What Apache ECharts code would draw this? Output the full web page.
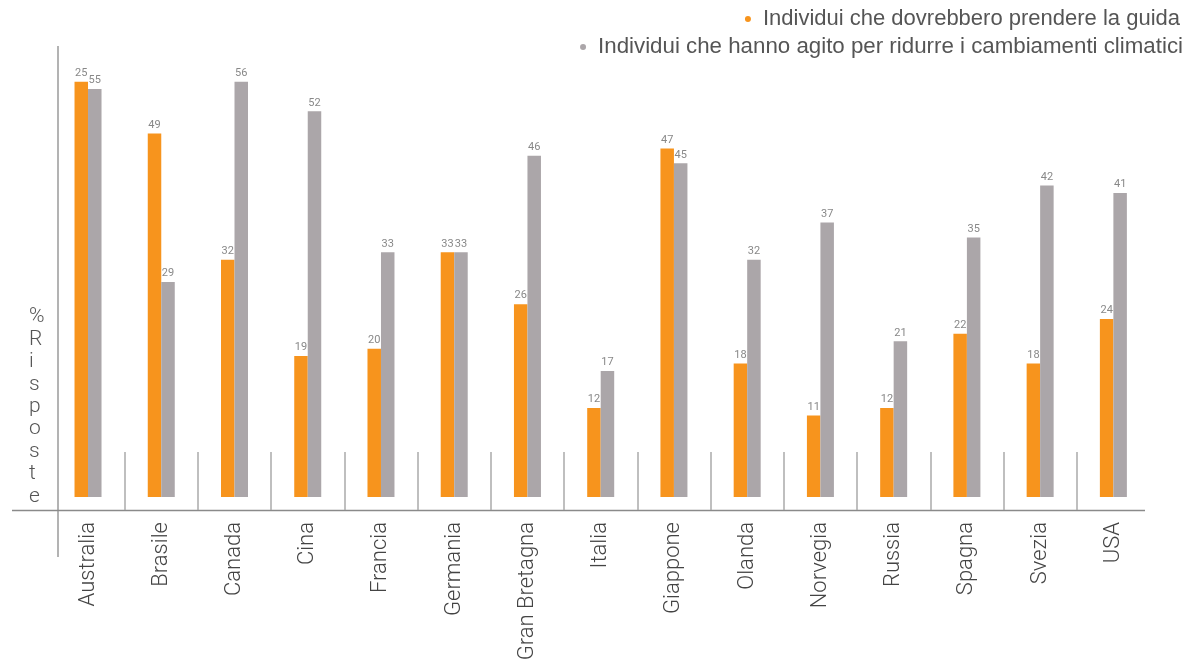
<!DOCTYPE html>
<html>
<head>
<meta charset="utf-8">
<script src="https://cdn.jsdelivr.net/npm/echarts@6/dist/echarts.min.js"></script>
<style>html,body{margin:0;padding:0;background:#fff}#c{width:1190px;height:669px}</style>
</head>
<body>
<div id="c"></div>
<script>
const categories = ['Australia','Brasile','Canada','Cina','Francia','Germania','Gran Bretagna','Italia','Giappone','Olanda','Norvegia','Russia','Spagna','Svezia','USA'];
const seriesNames = ['Individui che dovrebbero prendere la guida','Individui che hanno agito per ridurre i cambiamenti climatici'];
// bar heights as drawn
const guidaValues = [56,49,32,19,20,33,26,12,47,18,11,12,22,18,24];
// printed labels (Australia printed as 25 in the original)
const guidaLabels = [25,49,32,19,20,33,26,12,47,18,11,12,22,18,24];
const agitoValues = [55,29,56,52,33,33,46,17,45,32,37,21,35,42,41];
const yAxisTitle = '%\nR\ni\ns\np\no\ns\nt\ne';

const FONT = 'Roboto';
const chart = echarts.init(document.getElementById('c'), null, {renderer:'canvas'});
chart.setOption({
  animation: false,
  color: ['#F7941D', '#ABA6A9'],
  title: {
    text: yAxisTitle, left: 24, top: 301,
    textStyle: {fontFamily: FONT, fontWeight: 300, fontSize: 21, lineHeight: 22.4, color: '#555', align: 'center'}
  },
  legend: [
    {data: [seriesNames[0]], right: 5, top: 3, orient: 'vertical', itemWidth: 20, itemHeight: 6, icon: 'circle',
     textStyle: {fontFamily: 'Liberation Sans', fontSize: 22, color: '#555'}},
    {data: [seriesNames[1]], right: 2, top: 31, orient: 'vertical', itemWidth: 20, itemHeight: 6, icon: 'circle',
     textStyle: {fontFamily: 'Liberation Sans', fontSize: 22.3, color: '#555'}}
  ],
  grid: [
    {left: 51.4, right: 40, top: 52, bottom: 172},
    {left: 51.4, right: 40, top: 452, height: 58}
  ],
  xAxis: [
    {type: 'category', gridIndex: 0, data: categories, axisLine: {show: false}, axisTick: {show: false}, axisLabel: {show: false}},
    {type: 'category', gridIndex: 1, data: categories, axisLine: {show: false}, axisTick: {show: false},
     splitLine: {show: true, showMinLine: false, showMaxLine: false, lineStyle: {color: '#aaa', width: 1.5}},
     axisLabel: {rotate: 90, margin: 12, fontFamily: FONT, fontWeight: 300, fontSize: 22, color: '#444', interval: 0}}
  ],
  yAxis: [
    {type: 'value', gridIndex: 0, min: 0, max: 60, show: false},
    {type: 'value', gridIndex: 1, show: false}
  ],
  series: [
    {name: seriesNames[0], type: 'bar', xAxisIndex: 0, yAxisIndex: 0, data: guidaValues, barWidth: 13.5, barGap: '0%',
     label: {show: true, position: 'top', distance: 3, fontFamily: FONT, fontSize: 11, color: '#888',
       formatter: p => String(guidaLabels[p.dataIndex])}},
    {name: seriesNames[1], type: 'bar', xAxisIndex: 0, yAxisIndex: 0, data: agitoValues, barWidth: 13.5, barGap: '0%',
     label: {show: true, position: 'top', distance: 3, fontFamily: FONT, fontSize: 11, color: '#888'}}
  ],
  graphic: [
    {type: 'line', shape: {x1: 58, y1: 46, x2: 58, y2: 557}, style: {stroke: '#8a8a8a', lineWidth: 1.3}, silent: true},
    {type: 'line', shape: {x1: 12, y1: 510.5, x2: 1145, y2: 510.5}, style: {stroke: '#8a8a8a', lineWidth: 1.3}, silent: true}
  ]
});
</script>
</body>
</html>
